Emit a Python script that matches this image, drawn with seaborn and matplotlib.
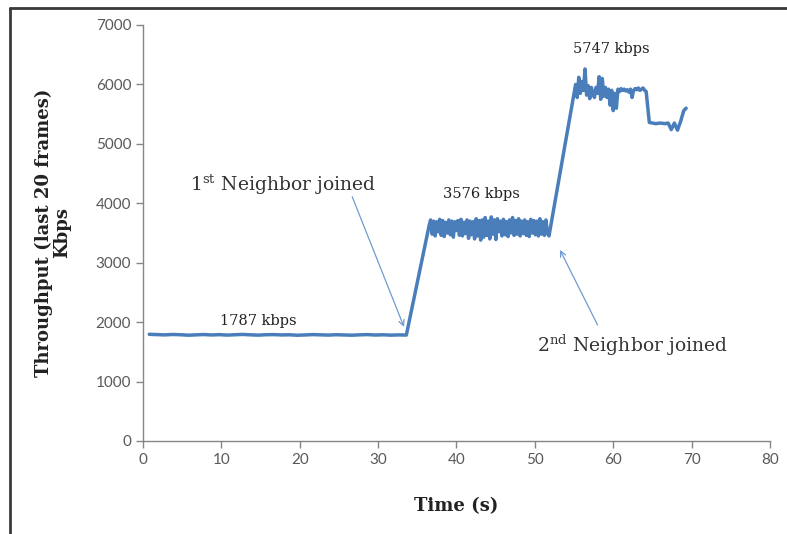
import matplotlib
matplotlib.use("Agg")
import matplotlib.pyplot as plt
from matplotlib.lines import Line2D
import numpy as np
import pandas as pd
import seaborn as sb

# throughput readings (kbps), one list per phase
base_vals = [1795, 1790, 1785, 1792, 1788, 1780, 1786, 1791, 1784, 1789, 1782, 1787,
             1793, 1786, 1781, 1788, 1790, 1784, 1787, 1779, 1785, 1790, 1786, 1782,
             1788, 1784, 1780, 1786, 1790, 1783, 1787, 1781, 1785, 1782]
one_nb_vals = [3620, 3720, 3480, 3700, 3450, 3690, 3520, 3730, 3460, 3710,
               3440, 3680, 3500, 3720, 3470, 3700, 3430, 3690, 3540, 3710,
               3460, 3730, 3450, 3680, 3490, 3720, 3410, 3700, 3470, 3690,
               3400, 3740, 3450, 3710, 3380, 3720, 3430, 3760, 3460, 3700,
               3400, 3770, 3480, 3720, 3390, 3740, 3520, 3700, 3450, 3730,
               3470, 3690, 3440, 3720, 3500, 3760, 3460, 3710, 3480, 3740,
               3450, 3700, 3490, 3720, 3460, 3690, 3440, 3730, 3500, 3710,
               3470, 3700, 3450, 3740, 3480, 3690, 3460, 3720, 3500, 3450]
two_nb_vals = [6000, 5780, 6120, 5850, 6050, 5900, 6260, 5820, 5980, 5760,
               5950, 5850, 5780, 5950, 5850, 6130, 5750, 6100, 5800, 5950,
               5780, 5920, 5650, 5900, 5560, 5850, 5600, 5920, 5880, 5930,
               5900, 5920, 5890, 5910, 5870, 5920, 5780, 5900, 5930, 5910,
               5940, 5900, 5920, 5940, 5900, 5880]
tail_times = [64.6, 65.4, 66.0, 66.6, 67.0, 67.4, 67.8, 68.2, 68.6, 69.0, 69.3]
tail_vals = [5360, 5340, 5350, 5340, 5350, 5240, 5350, 5230, 5380, 5560, 5600]

# sample times of each phase
base_t = np.linspace(0.8, 33.6, len(base_vals))
one_nb_t = np.linspace(36.5, 51.8, len(one_nb_vals))
two_nb_t = np.linspace(55.2, 64.2, len(two_nb_vals))

df = pd.DataFrame({
    "time": np.concatenate([base_t, one_nb_t, two_nb_t, tail_times]),
    "kbps": np.concatenate([base_vals, one_nb_vals, two_nb_vals, tail_vals]),
})

sb.set_style("white")
plt.rcParams["mathtext.fontset"] = "custom"
plt.rcParams["mathtext.rm"] = "DejaVu Serif"

fig = plt.figure(figsize=(7.87, 5.34), dpi=100)
ax = fig.add_axes([0.1817, 0.1742, 0.7967, 0.779])

sb.lineplot(data=df, x="time", y="kbps", ax=ax, color="#4a7ebb", linewidth=2.5,
            sort=False)

ax.set_xlim(0, 80)
ax.set_ylim(0, 7000)
ax.set_xticks(range(0, 81, 10))
ax.set_yticks(range(0, 7001, 1000))
ax.tick_params(axis="both", direction="out", length=5, width=1, color="#868686",
               labelcolor="#595959", labelsize=11, left=True, bottom=True)
for lab in ax.get_xticklabels() + ax.get_yticklabels():
    lab.set_family("Lato")
for s in ["top", "right"]:
    ax.spines[s].set_visible(False)
for s in ["left", "bottom"]:
    ax.spines[s].set_color("#868686")
    ax.spines[s].set_linewidth(1)

ax.set_xlabel("Time (s)", fontfamily="DejaVu Serif", fontweight="bold",
              fontsize=13, color="#222222", labelpad=22)
ax.set_ylabel("Throughput (last 20 frames)\nKbps", fontfamily="DejaVu Serif",
              fontweight="bold", fontsize=13, color="#222222", labelpad=18,
              linespacing=1.0)

# rate labels
lbl = dict(fontfamily="DejaVu Serif", fontsize=10.5, color="#222222", ha="center", va="center")
ax.text(14.7, 2020, "1787 kbps", **lbl)
ax.text(43.2, 4158, "3576 kbps", **lbl)
ax.text(59.8, 6600, "5747 kbps", **lbl)

arrow = dict(arrowstyle="->", color="#6f9bd1", lw=0.9, shrinkA=0, shrinkB=0)
ax.annotate("", xy=(33.3, 1919), xytext=(26.7, 4108), arrowprops=arrow)
ax.annotate("", xy=(53.2, 3215), xytext=(58.0, 1953), arrowprops=arrow)
ax.text(17.9, 4320, "1$^{\\mathrm{st}}$ Neighbor joined", fontfamily="DejaVu Serif",
        fontsize=13.5, color="#333333", ha="center", va="center")
ax.text(62.4, 1616, "2$^{\\mathrm{nd}}$ Neighbor joined", fontfamily="DejaVu Serif",
        fontsize=13.5, color="#333333", ha="center", va="center")

# frame lines at left and top of the picture
fig.add_artist(Line2D([10 / 787, 10 / 787], [0, 1 - 8 / 534], transform=fig.transFigure,
                      color="#3a3a3a", lw=2))
fig.add_artist(Line2D([10 / 787, 1], [1 - 8 / 534, 1 - 8 / 534], transform=fig.transFigure,
                      color="#3a3a3a", lw=2))

fig.savefig("out.png", dpi=100)
